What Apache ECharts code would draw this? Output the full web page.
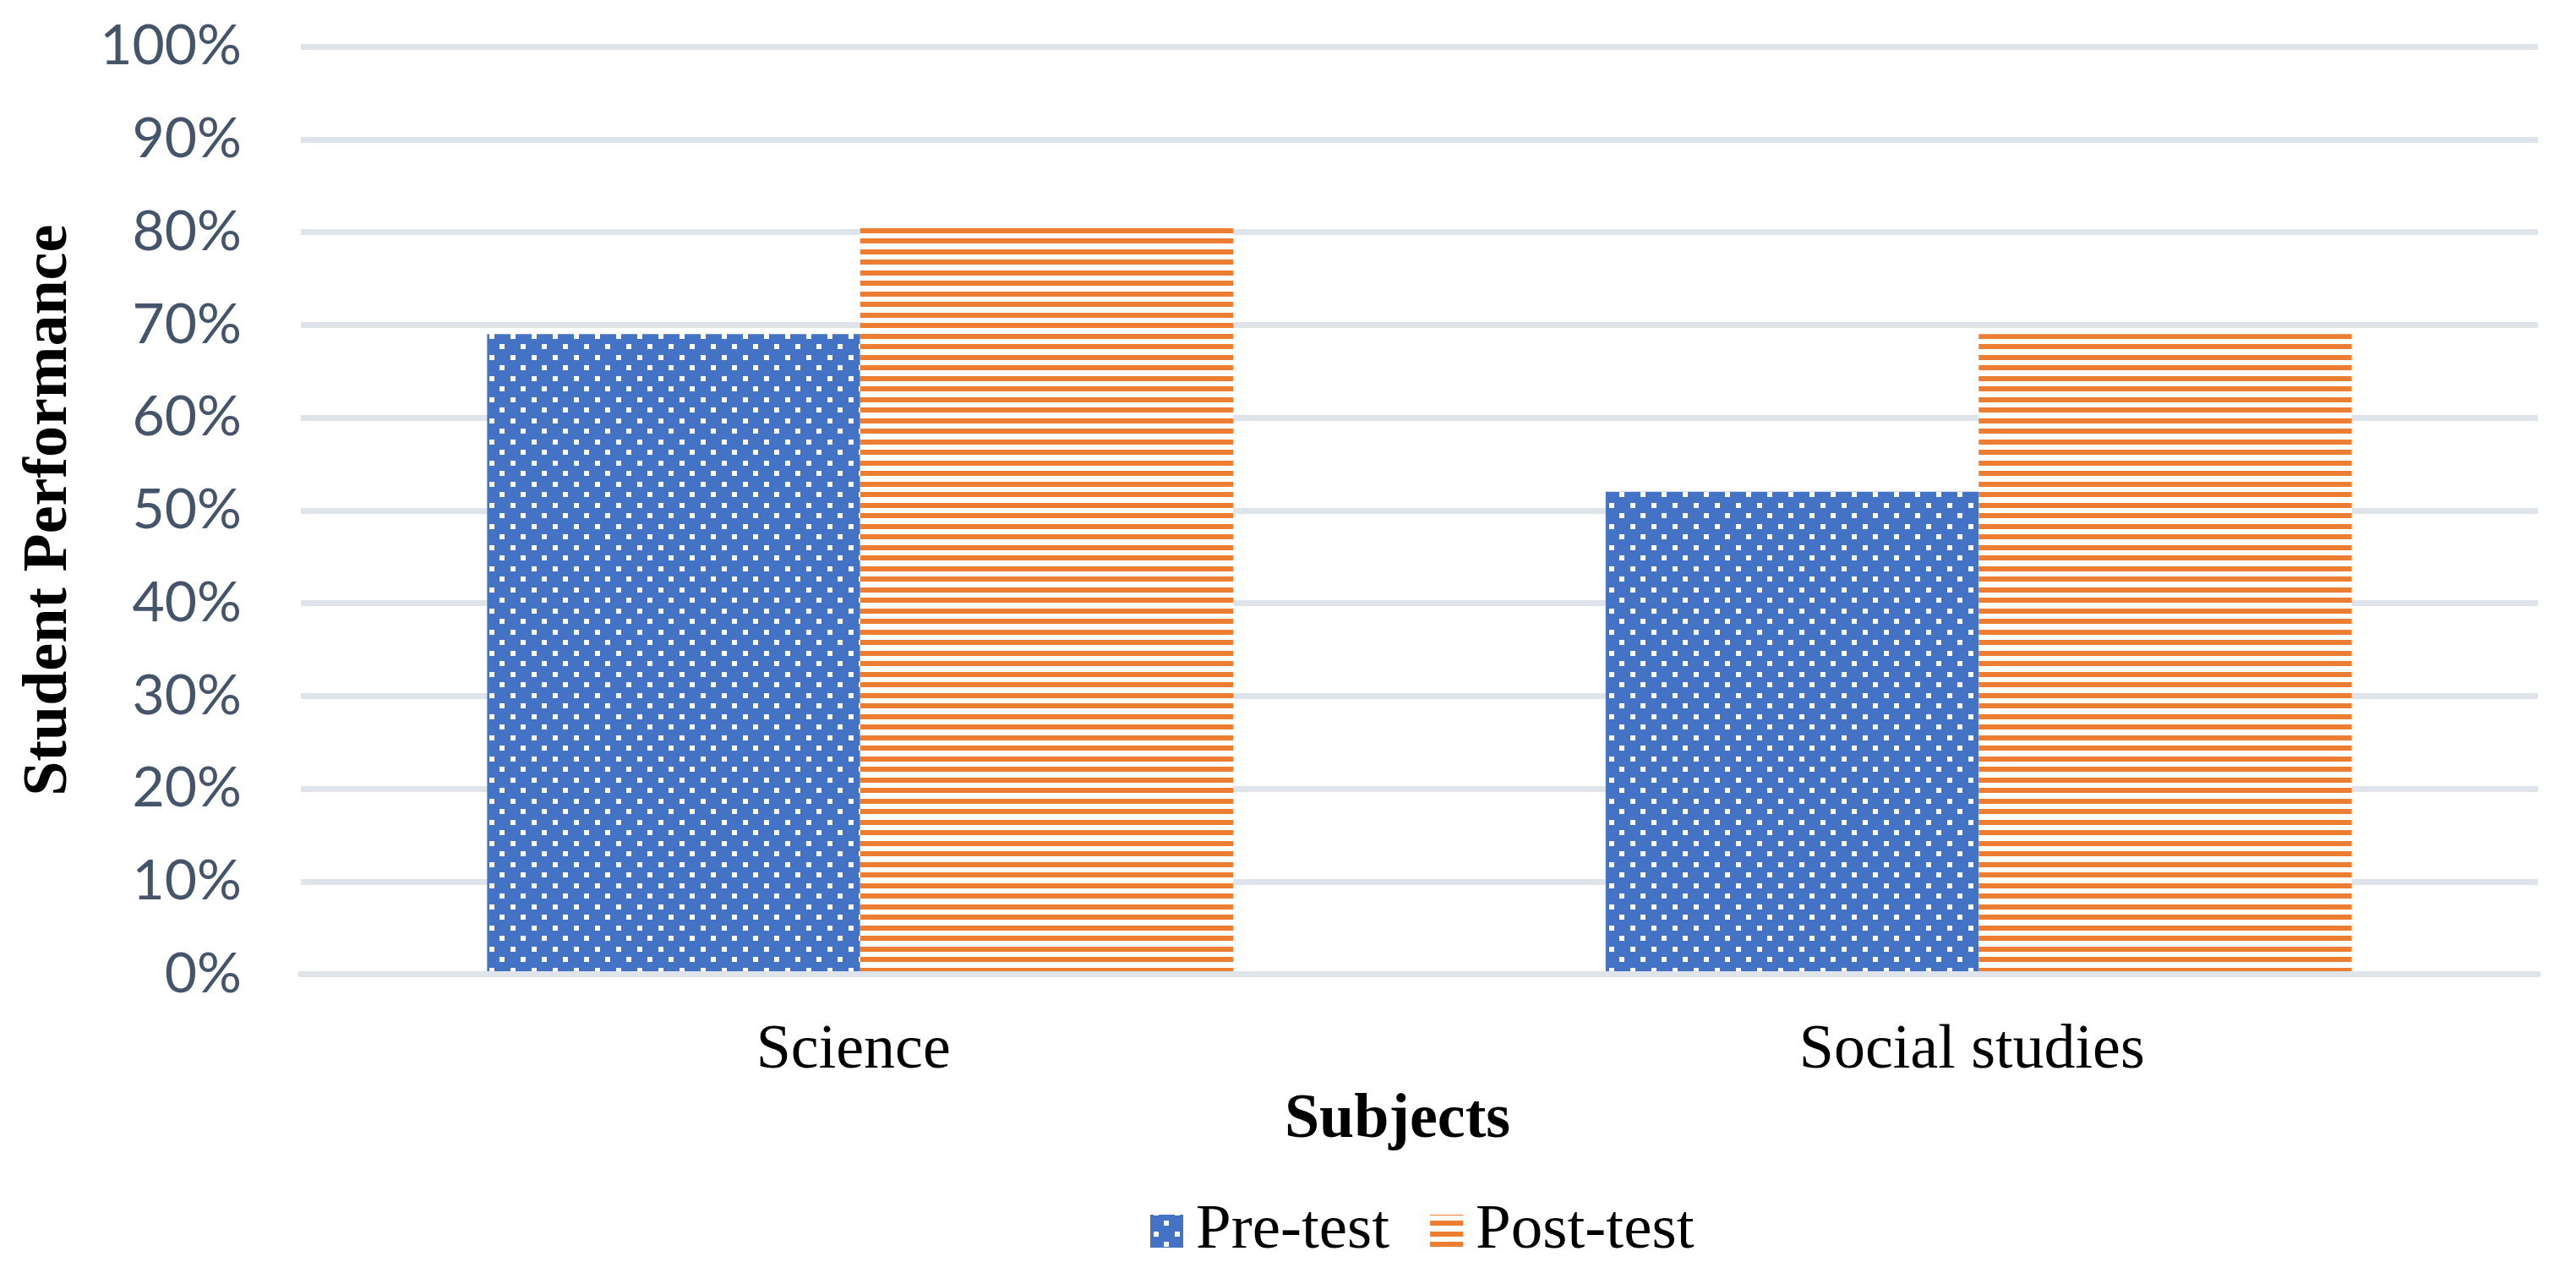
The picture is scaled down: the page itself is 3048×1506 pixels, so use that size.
<!DOCTYPE html>
<html>
<head>
<meta charset="utf-8">
<script src="https://cdn.jsdelivr.net/npm/echarts@6/dist/echarts.min.js"></script>
<style>
  html, body { margin: 0; padding: 0; background: #ffffff; }
  #chart { width: 3048px; height: 1506px; }
</style>
</head>
<body>
<div id="chart"></div>
<script>
// ---- data ----
const categories = ['Science', 'Social studies'];
const seriesNames = ['Pre-test', 'Post-test'];
const preTest = [69, 52];
const postTest = [80.4, 69];
const yMin = 0, yMax = 100, yStep = 10;

// ---- patterns ----
function wrapRect(g, x, y, w, h, s) {
  for (const dx of [-s, 0, s]) for (const dy of [-s, 0, s]) g.fillRect(x + dx, y + dy, w, h);
}
function dotsPattern() {
  const s = 25, c = document.createElement('canvas');
  c.width = s; c.height = s;
  const g = c.getContext('2d');
  g.fillStyle = '#4472C4'; g.fillRect(0, 0, s, s);
  g.fillStyle = '#FFFFFF';
  wrapRect(g, 4, 20, 6, 6, s);
  wrapRect(g, 16, 7, 6, 6, s);
  return c;
}
function stripesPattern() {
  const s = 25, c = document.createElement('canvas');
  c.width = s; c.height = s;
  const g = c.getContext('2d');
  g.fillStyle = '#FFFFFF'; g.fillRect(0, 0, s, s);
  g.fillStyle = '#ED7D31';
  wrapRect(g, 0, 20, s, 6, s);
  wrapRect(g, 0, 7, s, 6, s);
  return c;
}

const serif = '"Liberation Serif", "Times New Roman", serif';
const chart = echarts.init(document.getElementById('chart'));
chart.setOption({
  animation: false,
  backgroundColor: '#ffffff',
  grid: { left: 356, right: 45, top: 55, bottom: 353.5, containLabel: false },
  legend: {
    data: seriesNames,
    left: 1356, top: 1414,
    itemWidth: 39, itemHeight: 39, itemGap: 48,
    icon: 'rect',
    textStyle: { fontFamily: serif, fontSize: 75, color: '#000000', lineHeight: 75, padding: [0, 0, 0, 10] }
  },
  xAxis: {
    type: 'category',
    data: categories,
    z: 3,
    axisLine: { show: true, lineStyle: { color: '#DFE3EA', width: 7 } },
    axisTick: { show: false },
    axisLabel: { fontFamily: serif, fontSize: 74, color: '#000000', margin: 54, padding: [0, 16, 0, 0] },
    name: 'Subjects',
    nameLocation: 'middle',
    nameGap: 136,
    nameTextStyle: { fontFamily: serif, fontWeight: 'bold', fontSize: 74, color: '#000000', padding: [0, 52, 0, 0] }
  },
  yAxis: {
    type: 'value',
    min: yMin, max: yMax, interval: yStep,
    axisLine: { show: false },
    axisTick: { show: false },
    axisLabel: { formatter: '{value}%', fontFamily: 'Lato', fontSize: 66, color: '#44546A', margin: 70 },
    splitLine: { show: true, lineStyle: { color: '#DFE3EA', width: 7 } },
    name: 'Student Performance',
    nameLocation: 'middle',
    nameGap: 260,
    nameTextStyle: { fontFamily: serif, fontWeight: 'bold', fontSize: 74, color: '#000000' }
  },
  series: [
    {
      name: seriesNames[0], type: 'bar', data: preTest,
      barGap: '0%', barCategoryGap: '33.3%',
      itemStyle: { color: { image: dotsPattern(), repeat: 'repeat' } }
    },
    {
      name: seriesNames[1], type: 'bar', data: postTest,
      barGap: '0%', barCategoryGap: '33.3%',
      itemStyle: { color: { image: stripesPattern(), repeat: 'repeat' } }
    }
  ]
});
</script>
</body>
</html>
